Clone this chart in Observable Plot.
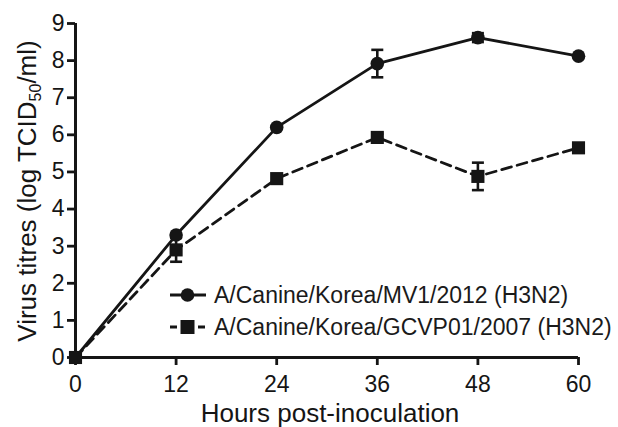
<!DOCTYPE html>
<html>
<head>
<meta charset="utf-8">
<script src="https://cdn.jsdelivr.net/npm/d3@7"></script>
<script src="https://cdn.jsdelivr.net/npm/@observablehq/plot@0.6"></script>
<style>
  html, body { margin: 0; padding: 0; background: #fff; }
  #wrap { position: relative; width: 618px; height: 427px; font-family: "Liberation Sans", Arial, Helvetica, sans-serif; color: #1a1a1a; }
  .leg { position: absolute; display: flex; align-items: center; font-size: 23px; white-space: nowrap; }
  .leg svg { margin-right: 8px; }
</style>
</head>
<body>
<div id="wrap"></div>
<script>
const hours = [0, 12, 24, 36, 48, 60];
const seriesNames = ["A/Canine/Korea/MV1/2012 (H3N2)", "A/Canine/Korea/GCVP01/2007 (H3N2)"];
const mv1 = [0, 3.3, 6.2, 7.92, 8.62, 8.12];
const mv1Err = [0, 0, 0, 0.37, 0.12, 0];
const gcvp = [0, 2.9, 4.82, 5.93, 4.88, 5.65];
const gcvpErr = [0, 0.32, 0, 0.1, 0.37, 0];
const yTicks = [0, 1, 2, 3, 4, 5, 6, 7, 8, 9];
const xTitle = "Hours post-inoculation";
const ink = "#151515";

const mvData = hours.map((h, i) => ({h, v: mv1[i], e: mv1Err[i]}));
const gcData = hours.map((h, i) => ({h, v: gcvp[i], e: gcvpErr[i]}));
const errs = mvData.concat(gcData).filter(d => d.e > 0);

const cap = {draw(ctx, size) { const r = Math.sqrt(size / Math.PI); ctx.moveTo(-r, 0); ctx.lineTo(r, 0); }};

const chart = Plot.plot({
  width: 618, height: 427,
  marginLeft: 75, marginRight: 40, marginTop: 23, marginBottom: 70,
  x: {domain: [0, 60]},
  y: {domain: [0, 9]},
  style: {fontFamily: "'Liberation Sans', Arial, Helvetica, sans-serif", color: ink, background: "white", overflow: "visible"},
  marks: [
    Plot.axisX({ticks: hours, tickSize: 8, tickPadding: 10, fontSize: 23, label: null, strokeWidth: 2.8}),
    Plot.axisY({ticks: yTicks, tickSize: 8, tickPadding: 3, fontSize: 23, label: null, strokeWidth: 2.8}),
    Plot.ruleX([0], {stroke: ink, strokeWidth: 3}),
    Plot.ruleY([0], {stroke: ink, strokeWidth: 3}),
    Plot.line(mvData, {x: "h", y: "v", stroke: ink, strokeWidth: 2.8}),
    Plot.line(gcData, {x: "h", y: "v", stroke: ink, strokeWidth: 2.8, strokeDasharray: "10,6"}),
    Plot.ruleX(errs, {x: "h", y1: d => d.v - d.e, y2: d => d.v + d.e, stroke: ink, strokeWidth: 2.6}),
    Plot.dot(errs, {x: "h", y: d => d.v + d.e, symbol: cap, r: 6, stroke: ink, strokeWidth: 2.6}),
    Plot.dot(errs, {x: "h", y: d => d.v - d.e, symbol: cap, r: 6, stroke: ink, strokeWidth: 2.6}),
    Plot.dot(mvData, {x: "h", y: "v", symbol: "circle", r: 6.8, fill: ink}),
    Plot.dot(gcData, {x: "h", y: "v", symbol: "square", r: 7.4, fill: ink})
  ]
});

const svg = d3.select(chart);
svg.append("text")
  .attr("x", 330).attr("y", 422)
  .attr("text-anchor", "middle")
  .attr("font-size", 26)
  .attr("fill", ink)
  .text(xTitle);
const yt = svg.append("text")
  .attr("transform", "translate(36,191) rotate(-90)")
  .attr("text-anchor", "middle")
  .attr("font-size", 26)
  .attr("fill", ink);
yt.append("tspan").text("Virus titres (log TCID");
yt.append("tspan").attr("font-size", 16).attr("dy", 5).text("50");
yt.append("tspan").attr("dy", -5).text("/ml)");

const wrap = document.getElementById("wrap");
wrap.appendChild(chart);

function legendRow(top, name, dashed, square) {
  const div = document.createElement("div");
  div.className = "leg";
  div.style.left = "170px";
  div.style.top = (top - 15) + "px";
  div.style.height = "30px";
  const s = d3.create("svg").attr("width", 36).attr("height", 30);
  s.append("line").attr("x1", 0).attr("x2", 36).attr("y1", 15).attr("y2", 15)
    .attr("stroke", ink).attr("stroke-width", 2.8)
    .attr("stroke-dasharray", dashed ? "7,7" : null);
  if (square) s.append("rect").attr("x", 10.5).attr("y", 8).attr("width", 14).attr("height", 14).attr("fill", ink);
  else s.append("circle").attr("cx", 17.5).attr("cy", 15).attr("r", 6.8).attr("fill", ink);
  div.appendChild(s.node());
  const t = document.createElement("span");
  t.textContent = name;
  div.appendChild(t);
  wrap.appendChild(div);
}
legendRow(295, seriesNames[0], false, false);
legendRow(327, seriesNames[1], true, true);
</script>
</body>
</html>
